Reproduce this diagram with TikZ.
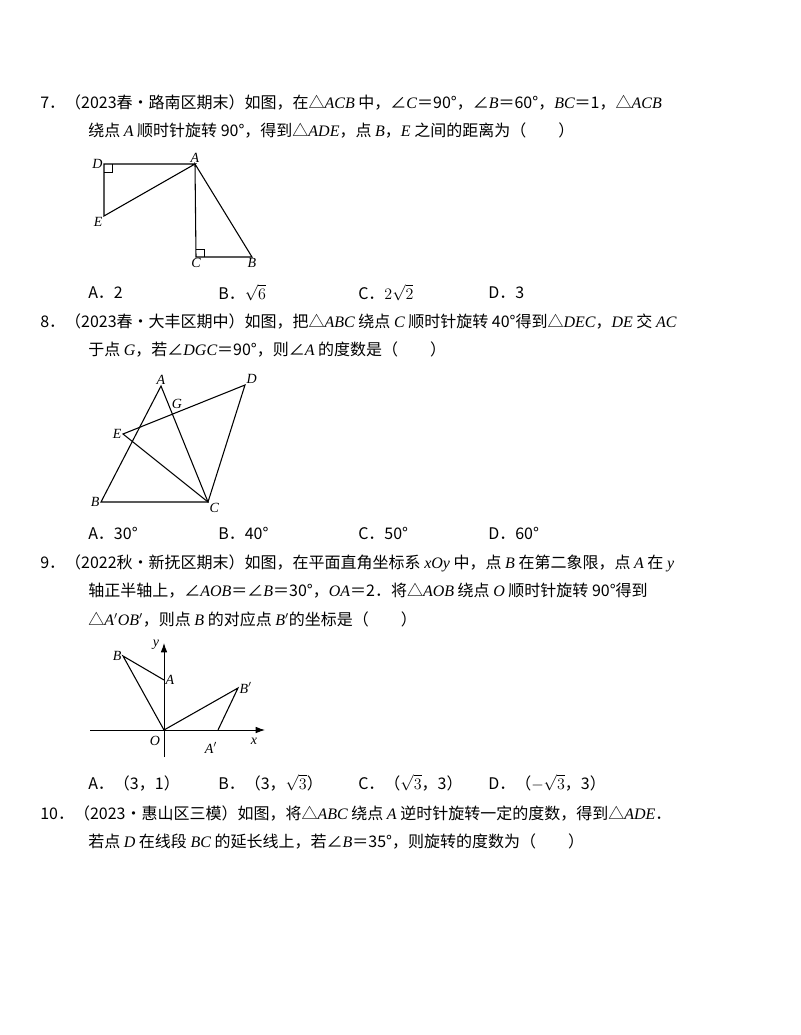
\documentclass[tikz,border=0pt]{standalone}
\usepackage{fontspec}
\setmainfont{Liberation Serif}
\newfontfamily\cjk{Noto Sans CJK SC}
\newcommand\iv[1]{{\rmfamily\itshape #1}}
\usetikzlibrary{arrows.meta}
\begin{document}
\begin{tikzpicture}[x=0.75pt,y=-0.75pt,
  txt/.style={anchor=west,inner sep=0,font=\cjk\fontsize{12}{14}\selectfont},
  lbl/.style={inner sep=1pt,font=\rmfamily\itshape\fontsize{10.5}{12}\selectfont},
  ln/.style={line width=0.8pt}]
\useasboundingbox (0,0) rectangle (800,1035);
% Q7
\node[txt] (t71) at (40,103) {7．（2023春•路南区期末）如图，在△\iv{ACB} 中，∠\iv{C}＝90°，∠\iv{B}＝60°，\iv{BC}＝1，△\iv{ACB}};
\node[txt] (t72) at (88,131) {绕点 \iv{A} 顺时针旋转 90°，得到△\iv{ADE}，点 \iv{B}，\iv{E} 之间的距离为（\qquad ）};
\coordinate (D) at (104,164); \coordinate (A) at (195,164); \coordinate (E) at (104,216);
\coordinate (C) at (196,257); \coordinate (B) at (252,257);
\draw[ln] (A)--(D)--(E)--cycle; \draw[ln] (A)--(C)--(B)--cycle;
\draw[line width=0.6pt] (104,172)-|(112,164); \draw[line width=0.6pt] (196,249)-|(204,257);
\node[lbl,left] at (D) {D}; \node[lbl,above] at (A) {A}; \node[lbl,below left] at (E) {E};
\node[lbl,below] at (C) {C}; \node[lbl,below] at (B) {B};
\node[txt] (o7a) at (88,293) {A．2}; \node[txt] (o7b) at (218,293) {B．$\sqrt{6}$};
\node[txt] (o7c) at (358,293) {C．$2\sqrt{2}$}; \node[txt] (o7d) at (488,293) {D．3};
% Q8
\node[txt] (t81) at (40,322) {8．（2023春•大丰区期中）如图，把△\iv{ABC} 绕点 \iv{C} 顺时针旋转 40°得到△\iv{DEC}，\iv{DE} 交 \iv{AC}};
\node[txt] (t82) at (88,350) {于点 \iv{G}，若∠\iv{DGC}＝90°，则∠\iv{A} 的度数是（\qquad ）};
\coordinate (A2) at (161,386); \coordinate (D2) at (245,385); \coordinate (E2) at (123,434);
\coordinate (B2) at (101,502); \coordinate (C2) at (208,502);
\draw[ln] (A2)--(B2)--(C2)--cycle; \draw[ln] (E2)--(D2)--(C2)--cycle;
\node[lbl,above] at (A2) {A}; \node[lbl,above right] at (D2) {D}; \node[lbl,left] at (E2) {E};
\node[lbl,left] at (B2) {B}; \node[lbl,below right] at (C2) {C}; \node[lbl] at (177,404) {G};
\node[txt] (o8a) at (88,533) {A．30°}; \node[txt] (o8b) at (218,533) {B．40°};
\node[txt] (o8c) at (358,533) {C．50°}; \node[txt] (o8d) at (488,533) {D．60°};
% Q9
\node[txt] (t91) at (40,563) {9．（2022秋•新抚区期末）如图，在平面直角坐标系 \iv{xOy} 中，点 \iv{B} 在第二象限，点 \iv{A} 在 \iv{y}};
\node[txt] (t92) at (88,591) {轴正半轴上，∠\iv{AOB}＝∠\iv{B}＝30°，\iv{OA}＝2．将△\iv{AOB} 绕点 \iv{O} 顺时针旋转 90°得到};
\node[txt] (t93) at (88,619) {△\iv{A}$'$\iv{OB}$'$，则点 \iv{B} 的对应点 \iv{B}$'$的坐标是（\qquad ）};
\coordinate (O) at (164,730); \coordinate (A3) at (164,680); \coordinate (B3) at (123,656);
\coordinate (B3p) at (238,688); \coordinate (A3p) at (218,730);
\coordinate (xs) at (90,730); \coordinate (xe) at (265,730); \coordinate (ys) at (164,757); \coordinate (ye) at (164,643);
\draw[line width=0.7pt,-{Latex[length=7pt,width=5pt]}] (xs)--(xe);
\draw[line width=0.7pt,-{Latex[length=7pt,width=5pt]}] (ys)--(ye);
\draw[ln] (O)--(B3)--(A3); \draw[ln] (O)--(B3p)--(A3p);
\node[lbl,left] at (B3) {B}; \node[lbl,right] at (A3) {A}; \node[lbl,right] at (B3p) {B$'$};
\node[lbl,below] at (211,741) {A$'$}; \node[lbl] at (155,741) {O};
\node[lbl] at (156,645) {y}; \node[lbl] at (254,741) {x};
\node[txt] (o9a) at (88,783) {A．（3，1）}; \node[txt] (o9b) at (218,783) {B．（3，$\sqrt{3}$）};
\node[txt] (o9c) at (358,783) {C．（$\sqrt{3}$，3）}; \node[txt] (o9d) at (488,783) {D．（$-\sqrt{3}$，3）};
% Q10
\node[txt] (t101) at (40,813) {10．（2023•惠山区三模）如图，将△\iv{ABC} 绕点 \iv{A} 逆时针旋转一定的度数，得到△\iv{ADE}．};
\node[txt] (t102) at (88,841) {若点 \iv{D} 在线段 \iv{BC} 的延长线上，若∠\iv{B}＝35°，则旋转的度数为（\qquad ）};
\end{tikzpicture}
\end{document}
